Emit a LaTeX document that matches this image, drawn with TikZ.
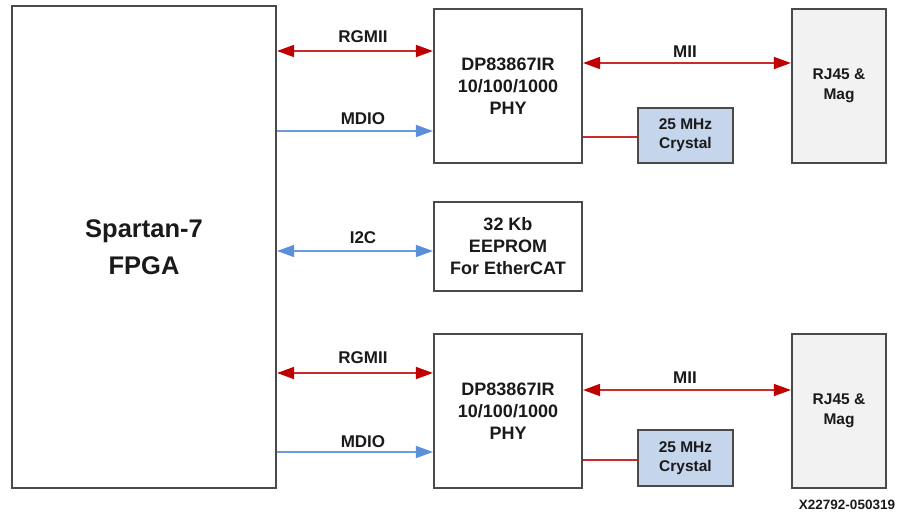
\documentclass[tikz,border=0pt]{standalone}
\usepackage{fontspec}
\setmainfont{Liberation Sans}
\usetikzlibrary{arrows.meta}
\definecolor{boxline}{HTML}{4A4A4A}
\definecolor{tipred}{HTML}{C00000}
\definecolor{linered}{HTML}{CC2B2B}
\definecolor{tipblue}{HTML}{5B8FD9}
\definecolor{lineblue}{HTML}{6A9ADF}
\definecolor{xtal}{HTML}{C5D5EC}
\definecolor{rjfill}{HTML}{F2F2F2}
\definecolor{txt}{HTML}{1A1A1A}
\begin{document}
\begin{tikzpicture}[x=1pt,y=-1pt,
  box/.style={draw=boxline, line width=2.2pt, fill=white, align=center, text=txt,
    font=\fontsize{18}{22}\selectfont\bfseries, inner sep=0pt},
  fpga/.style={box, font=\fontsize{25.5}{37}\selectfont\bfseries},
  xtalbox/.style={box, fill=xtal, font=\fontsize{15.5}{19}\selectfont\bfseries},
  rjbox/.style={box, fill=rjfill, font=\fontsize{15.5}{20}\selectfont\bfseries},
  lbl/.style={text=txt, font=\fontsize{17}{20}\selectfont\bfseries, inner sep=0pt},
  redbi/.style={draw=linered, line width=1.6pt, {Triangle[length=17pt,width=12pt,color=tipred]}-{Triangle[length=17pt,width=12pt,color=tipred]}},
  blueuni/.style={draw=lineblue, line width=1.6pt, -{Triangle[length=17pt,width=12pt,color=tipblue]}},
  bluebi/.style={draw=lineblue, line width=1.6pt, {Triangle[length=17pt,width=12pt,color=tipblue]}-{Triangle[length=17pt,width=12pt,color=tipblue]}},
  xline/.style={draw=linered, line width=1.6pt}
]
\useasboundingbox (0,0) rectangle (897,512);

% boxes
\node[fpga, minimum width=264pt, minimum height=482pt] (sp) at (144,247) {Spartan-7\\FPGA};
\node[box, minimum width=148pt, minimum height=154pt] (phy1) at (508,86) {DP83867IR\\10/100/1000\\PHY};
\node[rjbox, minimum width=94pt, minimum height=154pt] (rj1) at (839,86) {RJ45 \&\\Mag};
\node[xtalbox, minimum width=95pt, minimum height=55pt] (x1) at (685.5,135.5) {25 MHz\\Crystal};
\node[box, minimum width=148pt, minimum height=89pt] (ee) at (508,246.5) {32 Kb\\EEPROM\\For EtherCAT};
\node[box, minimum width=148pt, minimum height=154pt] (phy2) at (508,411) {DP83867IR\\10/100/1000\\PHY};
\node[rjbox, minimum width=94pt, minimum height=154pt] (rj2) at (839,411) {RJ45 \&\\Mag};
\node[xtalbox, minimum width=95pt, minimum height=56pt] (x2) at (685.5,458) {25 MHz\\Crystal};

% connectors top
\draw[redbi] (sp.east |- 0,51) -- (phy1.west |- 0,51);
\draw[blueuni] (sp.east |- 0,131) -- (phy1.west |- 0,131);
\draw[redbi] (phy1.east |- 0,63) -- (rj1.west |- 0,63);
\draw[xline] (phy1.east |- 0,137) -- (x1.west |- 0,137);
% i2c
\draw[bluebi] (sp.east |- 0,251) -- (ee.west |- 0,251);
% connectors bottom
\draw[redbi] (sp.east |- 0,373) -- (phy2.west |- 0,373);
\draw[blueuni] (sp.east |- 0,452) -- (phy2.west |- 0,452);
\draw[redbi] (phy2.east |- 0,390) -- (rj2.west |- 0,390);
\draw[xline] (phy2.east |- 0,460) -- (x2.west |- 0,460);

% labels
\node[lbl] (l1) at (363,37) {RGMII};
\node[lbl] (l2) at (363,119) {MDIO};
\node[lbl] (l3) at (685,52) {MII};
\node[lbl] (l4) at (363,238) {I2C};
\node[lbl] (l5) at (363,358) {RGMII};
\node[lbl] (l6) at (363,442) {MDIO};
\node[lbl] (l7) at (685,378) {MII};
\node[text=txt, font=\fontsize{13.5}{16}\selectfont\bfseries, inner sep=0pt] (fig) at (847,505) {X22792-050319};
\end{tikzpicture}
\end{document}
